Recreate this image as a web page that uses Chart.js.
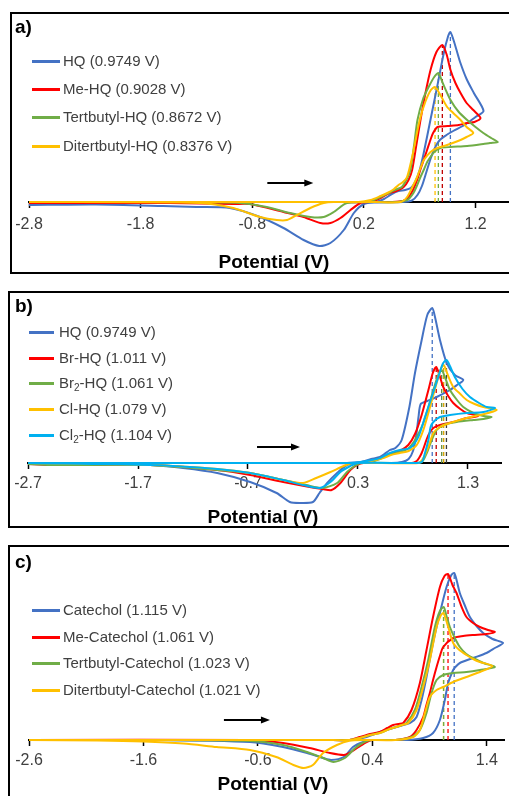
<!DOCTYPE html>
<html>
<head>
<meta charset="utf-8">
<script src="https://cdn.jsdelivr.net/npm/chart.js@4.4.1/dist/chart.umd.min.js"></script>
<style>
  html, body { margin:0; padding:0; background:#fff; }
  body { width:509px; height:796px; position:relative; overflow:hidden; font-family:'Liberation Sans', Arial, sans-serif; }
  .box { position:absolute; border:2px solid #000; box-sizing:border-box; width:540px; }
  canvas { position:absolute; left:0; }
  .tag { position:absolute; left:15px; font-weight:bold; font-size:19px; line-height:22px; color:#000; }
  .xtitle { position:absolute; font-weight:bold; font-size:19px; line-height:22px; color:#000; transform:translateX(-50%); white-space:nowrap; }
  .leg { position:absolute; font-size:15px; line-height:18px; color:#404040; white-space:nowrap; }
  .leg i { position:absolute; left:0; top:8px; height:3px; }
  sub { font-size:10px; vertical-align:-3px; line-height:0; }
</style>
</head>
<body>
<div class="box" style="left:10px;top:12px;height:262px"></div>
<div class="box" style="left:8px;top:291px;height:237px"></div>
<div class="box" style="left:8px;top:545px;height:280px"></div>
<canvas id="cv-a" width="509" height="258" style="top:14px"></canvas>
<canvas id="cv-b" width="509" height="233" style="top:293px"></canvas>
<canvas id="cv-c" width="509" height="249" style="top:547px"></canvas>
<div class="tag" style="top:16px">a)</div>
<div class="tag" style="top:295px">b)</div>
<div class="tag" style="top:551px">c)</div>
<div class="xtitle" style="left:274px;top:251px">Potential (V)</div>
<div class="xtitle" style="left:263px;top:506px">Potential (V)</div>
<div class="xtitle" style="left:273px;top:773px">Potential (V)</div>
<script>
// ---- panel a : hydroquinones ----
const namesA = ['HQ (0.9749 V)', 'Me-HQ (0.9028 V)', 'Tertbutyl-HQ (0.8672 V)', 'Ditertbutyl-HQ (0.8376 V)'];
const peakVA = [0.9749, 0.9028, 0.8672, 0.8376];
const peakIA = [17.0, 15.7, 12.9, 11.5];
const ticksA = [-2.8, -1.8, -0.8, 0.2, 1.2];
// [potential V, current] along the scan
const hqA = [[-2.8,0],[-1.5,0],[0,0],[0.3,0],[0.38,0.3],[0.45,0.8],[0.51,1.1],[0.57,1.2],[0.62,1.4],[0.66,2.0],[0.7,3.2],[0.736,4.9],[0.796,8.2],[0.856,11.5],[0.916,14.9],[0.955,16.6],[0.9749,17.0],[1.0,16.3],[1.03,15.2],[1.065,13.9],[1.12,12.3],[1.185,10.9],[1.272,9.1],[1.2,8.5],[1.1,7.7],[1.0,7.1],[0.94,6.7],[0.88,6.2],[0.84,5.5],[0.8,4.4],[0.76,3.0],[0.72,1.6],[0.68,0.7],[0.63,0.15],[0.55,0],[0.3,-0.05],[0.2,-0.2],[0.11,-1.1],[0.02,-2.8],[-0.1,-4.1],[-0.2,-4.4],[-0.34,-3.8],[-0.52,-2.6],[-0.73,-1.5],[-1.0,-0.6],[-1.3,-0.5],[-1.6,-0.4],[-2.2,-0.25],[-2.8,-0.3]];
const meA = [[-2.8,0],[-1.5,0],[0,0],[0.25,0],[0.35,0.4],[0.43,0.9],[0.49,1.1],[0.556,1.5],[0.6,2.2],[0.632,3.2],[0.67,5.7],[0.707,8.2],[0.75,10.8],[0.797,13.2],[0.85,15.0],[0.9028,15.7],[0.94,14.8],[0.976,13.2],[1.02,11.9],[1.066,10.9],[1.12,9.9],[1.18,9.2],[1.245,8.4],[1.19,8.0],[1.125,7.9],[1.05,7.7],[0.95,7.6],[0.86,7.5],[0.82,6.9],[0.796,6.2],[0.766,5.2],[0.736,4.2],[0.705,3.2],[0.677,2.2],[0.64,1.2],[0.6,0.5],[0.55,0.1],[0.45,0],[0.25,0],[0.17,-0.1],[0.08,-0.8],[-0.01,-1.6],[-0.1,-2.1],[-0.19,-2.1],[-0.34,-1.5],[-0.52,-1.0],[-0.82,-0.2],[-0.97,-0.2],[-1.54,-0.1],[-2.8,-0.1]];
const tbA = [[-2.8,0],[-1.5,0],[0,0],[0.2,0],[0.29,0.2],[0.37,0.6],[0.44,1.0],[0.5,1.3],[0.54,1.5],[0.58,2.2],[0.617,3.2],[0.65,5.7],[0.68,8.2],[0.73,10.3],[0.78,11.5],[0.83,12.5],[0.8672,12.9],[0.91,11.8],[0.976,10.2],[1.05,9.0],[1.125,8.2],[1.2,7.5],[1.27,6.9],[1.34,6.4],[1.4,6.0],[1.33,5.9],[1.27,5.8],[1.125,5.6],[0.976,5.5],[0.886,5.4],[0.83,5.0],[0.79,4.4],[0.767,4.0],[0.74,3.3],[0.707,2.5],[0.67,1.5],[0.644,0.9],[0.61,0.4],[0.587,0.2],[0.5,0],[0.05,-0.1],[-0.07,-1.0],[-0.16,-1.5],[-0.28,-1.5],[-0.46,-1.1],[-0.67,-0.5],[-0.91,-0.1],[-1.5,0],[-2.8,0]];
const dtA = [[-2.8,0],[-1.5,0],[0,0],[0.15,0],[0.26,0.2],[0.35,0.6],[0.41,0.9],[0.47,1.3],[0.51,1.7],[0.55,2.0],[0.587,2.5],[0.64,4.9],[0.7,8.2],[0.75,10.0],[0.8,11.2],[0.8376,11.5],[0.89,10.6],[0.946,9.5],[1.0,8.9],[1.066,8.2],[1.12,7.5],[1.18,6.9],[1.12,6.5],[1.066,6.2],[0.946,5.7],[0.857,5.4],[0.797,5.0],[0.737,4.2],[0.707,3.4],[0.677,2.5],[0.63,1.4],[0.587,0.5],[0.53,0],[0.3,0],[-0.07,0],[-0.16,-0.1],[-0.28,-0.6],[-0.4,-1.3],[-0.49,-1.8],[-0.58,-1.8],[-0.73,-1.5],[-0.97,-0.6],[-1.27,-0.1],[-2.8,0]];

// ---- panel b : halogenated hydroquinones ----
const namesB = ['HQ (0.9749 V)', 'Br-HQ (1.011 V)', 'Br₂-HQ (1.061 V)', 'Cl-HQ (1.079 V)', 'Cl₂-HQ (1.104 V)'];
const peakVB = [0.9749, 1.011, 1.061, 1.079, 1.104];
const peakIB = [15.5, 9.6, 9.3, 9.8, 10.3];
const ticksB = [-2.7, -1.7, -0.7, 0.3, 1.3];
const hqB = [[-2.7,0],[-1.5,0],[0,0],[0.2,0],[0.32,0.1],[0.42,0.4],[0.5,0.6],[0.59,1.3],[0.64,1.5],[0.697,2.3],[0.767,5.6],[0.818,9.0],[0.879,12.3],[0.93,14.8],[0.9749,15.5],[1.0,14.6],[1.045,12.3],[1.106,10.0],[1.18,8.8],[1.257,8.3],[1.2,7.8],[1.136,7.3],[1.015,6.6],[0.93,6.2],[0.87,5.9],[0.85,4.6],[0.83,2.8],[0.8,1.2],[0.76,0.4],[0.7,0.1],[0.6,0],[0.29,0],[0.2,-0.2],[0.11,-1.0],[0.02,-2.0],[-0.05,-3.0],[-0.11,-3.9],[-0.23,-4.0],[-0.32,-3.9],[-0.44,-3.0],[-0.68,-1.9],[-0.98,-1.0],[-1.29,-0.5],[-1.59,-0.2],[-2.7,-0.1]];
const brB = [[-2.7,0],[-1.5,0],[0,0],[0.3,0],[0.4,0.2],[0.5,0.5],[0.59,0.9],[0.68,1.2],[0.757,1.8],[0.818,2.9],[0.879,4.8],[0.94,7.3],[0.98,9.0],[1.011,9.6],[1.04,8.8],[1.075,7.6],[1.12,6.7],[1.166,6.0],[1.23,5.4],[1.288,5.0],[1.394,4.7],[1.288,4.5],[1.166,4.1],[1.045,3.8],[0.985,3.5],[0.95,3.0],[0.925,2.4],[0.9,1.6],[0.879,1.0],[0.855,0.5],[0.834,0.2],[0.79,0],[0.35,0],[0.29,-0.2],[0.23,-0.7],[0.14,-2.0],[0.06,-2.7],[-0.02,-2.6],[-0.14,-2.4],[-0.38,-1.9],[-0.68,-1.2],[-0.98,-0.7],[-1.59,-0.2],[-2.5,-0.2],[-2.7,-0.1]];
const br2B = [[-2.7,0],[-1.5,0],[0,0],[0.3,0],[0.4,0.1],[0.5,0.4],[0.6,0.9],[0.68,1.1],[0.75,1.4],[0.8,2.0],[0.834,2.6],[0.894,4.0],[0.94,5.6],[0.985,7.3],[1.03,8.8],[1.061,9.3],[1.09,8.6],[1.136,7.3],[1.2,6.3],[1.257,5.6],[1.35,5.0],[1.44,4.7],[1.515,4.6],[1.44,4.4],[1.348,4.3],[1.197,4.1],[1.075,3.8],[1.015,3.3],[0.97,2.3],[0.925,1.0],[0.88,0.1],[0.8,0],[0.33,0],[0.27,-0.3],[0.2,-0.9],[0.11,-2.0],[-0.02,-2.5],[-0.17,-2.2],[-0.38,-1.7],[-0.68,-1.0],[-0.98,-0.7],[-1.59,-0.2],[-2.5,-0.2],[-2.7,-0.1]];
const clB = [[-2.7,0],[-1.5,0],[0,0],[0.3,0],[0.38,0.1],[0.53,0.5],[0.6,0.8],[0.68,1.0],[0.76,1.2],[0.834,1.8],[0.894,3.3],[0.955,5.6],[1.015,8.0],[1.05,9.3],[1.079,9.8],[1.12,8.7],[1.166,7.6],[1.23,6.9],[1.288,6.3],[1.36,5.9],[1.44,5.6],[1.56,5.3],[1.41,4.8],[1.288,4.5],[1.136,4.0],[1.045,3.6],[0.985,3.0],[0.94,1.6],[0.894,0.5],[0.85,0],[0.25,0],[0.17,-0.3],[0.05,-0.9],[-0.08,-1.5],[-0.2,-2.0],[-0.38,-1.7],[-0.68,-1.0],[-0.98,-0.6],[-1.59,-0.2],[-2.7,0]];
const cl2B = [[-2.7,0],[-1.5,0],[0,0],[0.2,0],[0.32,0.1],[0.5,0.5],[0.59,1.0],[0.68,1.3],[0.773,1.5],[0.848,2.6],[0.909,4.6],[0.97,6.6],[1.03,8.6],[1.07,9.9],[1.104,10.3],[1.14,9.6],[1.18,8.6],[1.25,7.4],[1.318,6.6],[1.4,6.0],[1.47,5.6],[1.545,5.5],[1.44,5.1],[1.288,5.0],[1.136,4.8],[1.045,4.6],[0.985,4.1],[0.96,3.6],[0.94,2.3],[0.909,1.0],[0.88,0.1],[0.8,0],[0.3,0],[0.23,-0.3],[0.14,-0.9],[0.05,-1.9],[-0.05,-2.5],[-0.2,-2.2],[-0.38,-1.7],[-0.68,-1.0],[-0.98,-0.6],[-1.59,-0.2],[-2.7,0]];

// ---- panel c : catechols ----
const namesC = ['Catechol (1.115 V)', 'Me-Catechol (1.061 V)', 'Tertbutyl-Catechol (1.023 V)', 'Ditertbutyl-Catechol (1.021 V)'];
const peakVC = [1.115, 1.061, 1.023, 1.021];
const peakIC = [16.7, 16.6, 13.3, 12.7];
const ticksC = [-2.6, -1.6, -0.6, 0.4, 1.4];
const catC = [[-2.6,0],[-1.5,0],[0,0],[0.2,0],[0.35,0.3],[0.465,0.8],[0.55,1.1],[0.61,1.3],[0.67,1.5],[0.73,1.7],[0.786,2.3],[0.83,4.0],[0.873,6.3],[0.93,9.7],[0.99,12.7],[1.048,15.3],[1.09,16.5],[1.115,16.7],[1.14,15.8],[1.164,14.7],[1.21,13.4],[1.252,12.3],[1.31,11.4],[1.368,10.7],[1.45,10.1],[1.542,9.7],[1.47,9.2],[1.397,8.7],[1.28,8.2],[1.164,7.7],[1.125,7.3],[1.106,7.0],[1.062,5.7],[1.033,4.0],[0.99,2.0],[0.93,0.7],[0.844,0.2],[0.7,0],[0.4,0],[0.32,-0.2],[0.23,-0.7],[0.15,-1.7],[0.04,-2.0],[-0.03,-1.8],[-0.17,-1.3],[-0.38,-0.7],[-0.67,-0.2],[-1.54,0],[-2.6,0]];
const meC = [[-2.6,0],[-1.5,0],[0,0],[0.2,0],[0.29,0.3],[0.38,0.6],[0.465,0.8],[0.53,1.2],[0.582,1.5],[0.63,1.6],[0.67,1.7],[0.742,3.0],[0.815,5.7],[0.873,9.0],[0.93,12.3],[0.99,15.3],[1.03,16.4],[1.061,16.6],[1.1,15.5],[1.135,14.7],[1.18,13.3],[1.222,12.3],[1.28,11.7],[1.339,11.3],[1.41,11.0],[1.47,10.8],[1.397,10.6],[1.28,10.5],[1.193,10.4],[1.106,10.2],[1.019,9.3],[0.99,8.4],[0.961,7.3],[0.93,6.0],[0.902,4.7],[0.87,3.4],[0.844,2.3],[0.786,1.0],[0.728,0.3],[0.6,0],[0.4,0],[0.35,-0.2],[0.28,-0.7],[0.2,-1.3],[0.15,-1.5],[0.03,-1.3],[-0.15,-0.8],[-0.38,-0.3],[-0.67,0],[-2.6,0]];
const tbC = [[-2.6,0],[-1.5,0],[0,0],[0.2,0],[0.29,0.2],[0.38,0.5],[0.465,0.7],[0.55,1.1],[0.61,1.3],[0.66,1.5],[0.699,1.7],[0.771,3.0],[0.83,5.3],[0.888,8.0],[0.946,11.3],[0.99,12.9],[1.023,13.3],[1.05,12.3],[1.077,11.3],[1.12,10.2],[1.164,9.3],[1.22,8.6],[1.28,8.2],[1.37,7.7],[1.47,7.3],[1.339,7.0],[1.222,6.8],[1.106,6.7],[1.019,6.5],[0.961,6.0],[0.917,4.7],[0.873,2.7],[0.815,1.0],[0.742,0.3],[0.6,0],[0.4,0],[0.33,-0.2],[0.25,-0.8],[0.16,-1.8],[0.06,-2.2],[-0.03,-1.8],[-0.17,-1.2],[-0.38,-0.5],[-0.67,-0.1],[-1.54,0],[-2.6,0]];
const dtC = [[-2.6,0],[-1.5,0],[0,0],[0.2,0],[0.29,0.2],[0.38,0.5],[0.465,0.7],[0.55,1.1],[0.61,1.3],[0.66,1.5],[0.713,1.7],[0.786,3.0],[0.844,5.3],[0.902,8.0],[0.961,11.3],[0.995,12.4],[1.021,12.7],[1.06,11.4],[1.106,9.7],[1.16,9.0],[1.222,8.5],[1.28,8.1],[1.339,7.8],[1.45,7.4],[1.339,6.8],[1.222,6.3],[1.106,5.8],[1.019,5.3],[0.961,5.0],[0.902,4.3],[0.859,2.7],[0.815,1.0],[0.757,0.3],[0.6,0],[0.32,0],[0.2,-0.07],[0.09,-0.5],[-0.03,-1.3],[-0.12,-2.5],[-0.2,-2.8],[-0.29,-2.5],[-0.44,-1.7],[-0.67,-1.0],[-0.96,-0.7],[-1.25,-0.35],[-1.6,-0.15],[-2.0,-0.05],[-2.6,0]];

const blue = '#4472C4', red = '#FF0000', green = '#70AD47', yellow = '#FFC000', cyan = '#00B0F0';

Chart.defaults.font.family = "'Liberation Sans', Arial, sans-serif";

// black scan direction arrow
const arrowPlugin = {
    id: 'scanArrow',
    afterDatasetsDraw(chart, args, opts) {
        const ctx = chart.ctx;
        const x1 = chart.scales.x.getPixelForValue(opts.from);
        const x2 = chart.scales.x.getPixelForValue(opts.to);
        const yy = chart.scales.y.getPixelForValue(opts.at);
        ctx.save();
        ctx.strokeStyle = '#000';
        ctx.fillStyle = '#000';
        ctx.lineWidth = 2;
        ctx.beginPath();
        ctx.moveTo(x1, yy);
        ctx.lineTo(x2 - 7, yy);
        ctx.stroke();
        ctx.beginPath();
        ctx.moveTo(x2, yy);
        ctx.lineTo(x2 - 9, yy - 3.5);
        ctx.lineTo(x2 - 9, yy + 3.5);
        ctx.closePath();
        ctx.fill();
        ctx.restore();
    }
};

function loadPanel(id, curves, colors, dashColors, peakV, peakI, ticks, xr, yr, pad, tickPad, arrow) {
    let sets = [];
    curves.forEach(function(c, i){
        sets.push({
            data: c, showLine: true, borderColor: colors[i], borderWidth: 2,
            pointRadius: 0, tension: 0.25, fill: false, order: curves.length - i
        });
    });
    peakV.forEach(function(v, i){
        sets.push({
            data: [[v, 0], [v, peakI[i]]], showLine: true, borderColor: dashColors[i],
            borderWidth: 1.3, borderDash: [4, 3], pointRadius: 0, tension: 0, order: 100
        });
    });
    new Chart(document.getElementById(id), {
        type: 'scatter',
        data: { datasets: sets },
        options: {
            responsive: false,
            animation: false,
            devicePixelRatio: 1,
            layout: { padding: pad },
            plugins: { legend: { display: false }, tooltip: { enabled: false }, scanArrow: arrow },
            scales: {
                x: {
                    type: 'linear', position: { y: 0 }, min: xr[0], max: xr[1],
                    afterBuildTicks: function(s){ s.ticks = ticks.map(v => ({ value: v })); },
                    ticks: {
                        callback: v => v.toFixed(1), autoSkip: false, maxRotation: 0,
                        font: { size: 16 }, color: '#404040', padding: tickPad
                    },
                    grid: { drawOnChartArea: false, drawTicks: true, tickLength: 5, tickColor: '#000', tickWidth: 1.5 },
                    border: { display: true, color: '#000', width: 2 }
                },
                y: { type: 'linear', display: false, min: yr[0], max: yr[1] }
            }
        },
        plugins: [arrowPlugin]
    });
}

function loadLegend(names, colors, firstY, step, lineX, lineW, textX) {
    names.forEach(function(n, i){
        const row = document.createElement('div');
        row.className = 'leg';
        row.style.left = lineX + 'px';
        row.style.top = Math.round(firstY + i * step - 9) + 'px';
        row.style.paddingLeft = (textX - lineX) + 'px';
        row.innerHTML = '<i style="width:' + lineW + 'px;background:' + colors[i] + '"></i>' + n.replace('₂', '<sub>2</sub>');
        document.body.appendChild(row);
    });
}

loadPanel('cv-a', [hqA, meA, tbA, dtA], [blue, red, green, yellow], [blue, '#C00000', green, yellow],
    peakVA, peakIA, ticksA, [-2.8, 1.5], [-5, 18], { left: 29, right: 0, top: 8, bottom: 20 }, 7.5,
    { from: -0.665, to: -0.253, at: 1.9 });
loadPanel('cv-b', [hqB, brB, br2B, clB, cl2B], [blue, red, green, yellow, cyan], [blue, '#C00000', '#5a8a3a', '#d9a300', '#3a3a3a'],
    peakVB, peakIB, ticksB, [-2.7, 1.6], [-4.7, 16.5], { left: 28, right: 8, top: 5, bottom: 16 }, 5.5,
    { from: -0.618, to: -0.227, at: 1.6 });
loadPanel('cv-c', [catC, meC, tbC, dtC], [blue, red, green, yellow], [blue, red, green, yellow],
    peakVC, peakIC, ticksC, [-2.6, 1.55], [-3.5, 17.7], { left: 29, right: 5, top: 16, bottom: 21 }, 5.5,
    { from: -0.897, to: -0.495, at: 2.0 });

loadLegend(namesA, [blue, red, green, yellow], 61, 28.2, 32, 28, 63);
loadLegend(namesB, [blue, red, green, yellow, cyan], 332, 25.7, 29, 25, 59);
loadLegend(namesC, [blue, red, green, yellow], 610, 26.7, 32, 28, 63);
</script>
</body>
</html>
